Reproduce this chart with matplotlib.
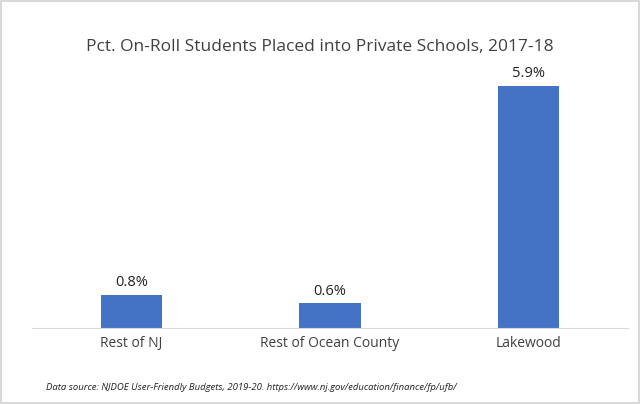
import matplotlib
matplotlib.use("Agg")
import matplotlib.pyplot as plt

categories = ["Rest of NJ", "Rest of Ocean County", "Lakewood"]
values = [0.8, 0.6, 5.9]
labels = ["0.8%", "0.6%", "5.9%"]

fig = plt.figure(figsize=(6.4, 4.04), dpi=100)
fig.patch.set_edgecolor("#d9d9d9")
fig.patch.set_linewidth(1.5)
ax = fig.add_axes([0.05, 0.188, 0.931, 0.711])
ax.bar(range(3), values, width=0.31, color="#4472C4")
ax.set_xlim(-0.5, 2.5)
ax.set_ylim(0, 7)
for i, (v, l) in enumerate(zip(values, labels)):
    ax.text(i, v + 0.12, l, ha="center", va="bottom", fontsize=10.5, color="#222222", family="Open Sans")
ax.set_xticks(range(3))
ax.set_xticklabels(categories, fontsize=10, color="#404040", family="Open Sans")
ax.tick_params(axis="x", length=0, pad=6)
ax.set_yticks([])
for s in ["left", "right", "top"]:
    ax.spines[s].set_visible(False)
ax.spines["bottom"].set_color("#d9d9d9")
fig.text(0.5, 0.883, "Pct. On-Roll Students Placed into Private Schools, 2017-18",
         ha="center", va="center", fontsize=12.5, color="#404040", family="Open Sans")
fig.text(0.072, 0.042, "Data source: NJDOE User-Friendly Budgets, 2019-20. https://www.nj.gov/education/finance/fp/ufb/",
         ha="left", va="center", fontsize=6.8, style="italic", color="#222222", family="Open Sans")
fig.savefig("out.png", dpi=100, edgecolor=fig.get_edgecolor())
